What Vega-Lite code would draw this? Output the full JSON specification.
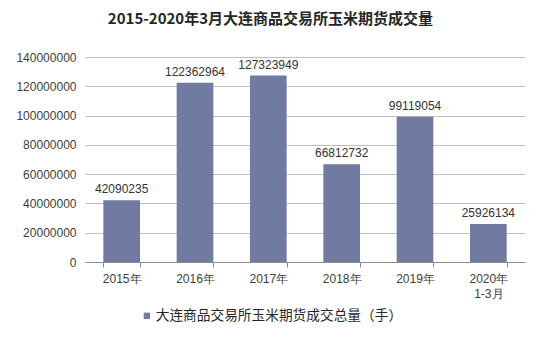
{
  "$schema": "https://vega.github.io/schema/vega-lite/v6.json",
  "autosize": {"type": "none"},
  "width": 440,
  "height": 205,
  "padding": {"left": 85, "top": 57, "right": 12, "bottom": 76},
  "background": "#ffffff",
  "title": {
    "text": "2015-2020年3月大连商品交易所玉米期货成交量",
    "anchor": "middle",
    "frame": "bounds",
    "font": "Noto Sans CJK SC",
    "fontSize": 15,
    "fontWeight": "bold",
    "color": "#262626",
    "offset": 24
  },
  "data": {
    "values": [
      {"year": "2015年", "value": 42090235, "series": "大连商品交易所玉米期货成交总量（手）"},
      {"year": "2016年", "value": 122362964, "series": "大连商品交易所玉米期货成交总量（手）"},
      {"year": "2017年", "value": 127323949, "series": "大连商品交易所玉米期货成交总量（手）"},
      {"year": "2018年", "value": 66812732, "series": "大连商品交易所玉米期货成交总量（手）"},
      {"year": "2019年", "value": 99119054, "series": "大连商品交易所玉米期货成交总量（手）"},
      {"year": "2020年 1-3月", "value": 25926134, "series": "大连商品交易所玉米期货成交总量（手）"}
    ]
  },
  "encoding": {
    "x": {
      "field": "year",
      "type": "nominal",
      "sort": null,
      "scale": {"paddingInner": 0.5, "paddingOuter": 0.25},
      "axis": {
        "title": null,
        "labelAngle": 0,
        "labelExpr": "split(datum.label, ' ')",
        "labelFont": "Liberation Sans",
        "labelFontSize": 12,
        "labelColor": "#404040",
        "labelPadding": 6,
        "labelLineHeight": 15,
        "domainColor": "#8c8c8c",
        "tickColor": "#8c8c8c",
        "tickSize": 5,
        "tickBand": "extent",
        "grid": false
      }
    },
    "y": {
      "field": "value",
      "type": "quantitative",
      "scale": {"domain": [0, 140000000], "nice": false},
      "axis": {
        "title": null,
        "values": [0, 20000000, 40000000, 60000000, 80000000, 100000000, 120000000, 140000000],
        "format": "d",
        "labelFont": "Liberation Sans",
        "labelFontSize": 12,
        "labelColor": "#404040",
        "labelPadding": 9,
        "domain": false,
        "ticks": false,
        "gridColor": "#bfbfbf",
        "gridWidth": 1
      }
    }
  },
  "layer": [
    {
      "mark": {"type": "bar", "color": "#717ba1"},
      "encoding": {
        "color": {
          "field": "series",
          "type": "nominal",
          "scale": {"range": ["#717ba1"]},
          "legend": {
            "title": null,
            "orient": "none",
            "legendX": 55,
            "legendY": 252,
            "symbolType": "square",
            "symbolSize": 40,
            "labelFont": "Noto Sans CJK SC",
            "labelFontSize": 13.7,
            "labelColor": "#262626",
            "labelOffset": 2,
            "labelLimit": 0
          }
        }
      }
    },
    {
      "mark": {"type": "text", "dy": -11, "font": "Liberation Sans", "fontSize": 12, "color": "#333333"},
      "encoding": {
        "text": {"field": "value", "type": "quantitative", "format": "d"}
      }
    }
  ],
  "config": {"view": {"stroke": null}}
}
